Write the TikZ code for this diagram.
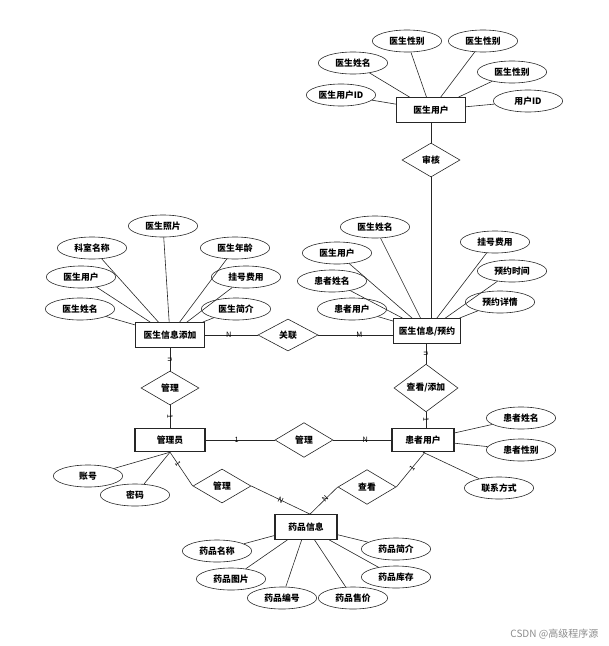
\documentclass[tikz,border=0pt]{standalone}
\usepackage{fontspec}
\setmainfont{Noto Sans CJK SC}
\usetikzlibrary{shapes.geometric}

\tikzset{
  entity/.style={draw=black!85, line width=0.8pt, rectangle, minimum width=52pt,
    minimum height=18.5pt, inner sep=1pt, font=\fontsize{6.6}{8}\selectfont\bfseries},
  attr/.style={draw=black!85, line width=0.45pt, ellipse, minimum width=52pt,
    minimum height=16.5pt, inner sep=0pt, font=\fontsize{6.6}{8}\selectfont\bfseries},
  rel/.style={draw=black!85, line width=0.45pt, diamond, minimum width=43.5pt,
    minimum height=25.5pt, inner sep=0pt, font=\fontsize{6.6}{8}\selectfont\bfseries},
  card/.style={font=\fontsize{5.5}{6}\selectfont, inner sep=0.5pt},
  link/.style={draw=black!85, line width=0.45pt}
}

\begin{document}
\begin{tikzpicture}[x=0.75pt,y=-0.75pt]
  \useasboundingbox (0,0) rectangle (608,646);

  % entities
  \node[entity] (docuser) at (431,110) {医生用户};
  \node[entity, minimum width=50pt] (docinfo) at (427,331) {医生信息/预约};
  \node[entity] (docadd) at (170,335) {医生信息添加};
  \node[entity, minimum width=52.5pt, minimum height=17.5pt] (admin) at (170,440) {管理员};
  \node[entity, minimum width=46.5pt, minimum height=17.5pt] (patient) at (423,440) {患者用户};
  \node[entity, minimum width=46.5pt] (drug) at (306,527) {药品信息};

  % relationships
  \node[rel] (audit) at (431,160) {审核};
  \node[rel, minimum width=45pt, minimum height=24pt] (assoc) at (288,335) {关联};
  \node[rel] (mgrA) at (170,388) {管理};
  \node[rel, minimum width=48pt] (viewA) at (426,388) {查看/添加};
  \node[rel, minimum height=26pt] (mgrB) at (304,440) {管理};
  \node[rel] (mgrC) at (222,486) {管理};
  \node[rel, minimum height=26pt] (viewB) at (367,487) {查看};

  % attributes of 医生用户
  \node[attr] (dsexA) at (407,41) {医生性别};
  \node[attr] (dsexB) at (483,41) {医生性别};
  \node[attr] (dname) at (353,63) {医生姓名};
  \node[attr] (dsexC) at (512,72) {医生性别};
  \node[attr] (duid) at (341,95) {医生用户ID};
  \node[attr] (uid) at (528,101) {用户ID};
  \foreach \a in {dsexA,dsexB,dname,dsexC,duid,uid}
    \draw[link] (\a) -- (docuser);

  % attributes of 医生信息添加
  \node[attr] (aphoto) at (163,226) {医生照片};
  \node[attr] (adept) at (92,248) {科室名称};
  \node[attr] (aage) at (235,248) {医生年龄};
  \node[attr] (auser) at (81,277) {医生用户};
  \node[attr] (afee) at (246,277) {挂号费用};
  \node[attr] (aname) at (80,309) {医生姓名};
  \node[attr] (aintro) at (236,309) {医生简介};
  \foreach \a in {aphoto,adept,aage,auser,afee,aname,aintro}
    \draw[link] (\a) -- (docadd);

  % attributes of 医生信息/预约
  \node[attr] (bname) at (375,227) {医生姓名};
  \node[attr] (buser) at (337,253) {医生用户};
  \node[attr] (bpname) at (332,281) {患者姓名};
  \node[attr] (bpuser) at (352,309) {患者用户};
  \node[attr] (bfee) at (495,242) {挂号费用};
  \node[attr] (btime) at (512,271) {预约时间};
  \node[attr] (bdetail) at (500,302) {预约详情};
  \foreach \a in {bname,buser,bpname,bpuser,bfee,btime,bdetail}
    \draw[link] (\a) -- (docinfo);

  % attributes of 管理员
  \node[attr] (acct) at (88,476) {账号};
  \node[attr] (pwd) at (135,495) {密码};
  \draw[link] (admin.south) -- (acct);
  \draw[link] (admin.south) -- (pwd);

  % attributes of 患者用户
  \node[attr] (pname) at (521,418) {患者姓名};
  \node[attr] (psex) at (521,450) {患者性别};
  \node[attr] (pcontact) at (499,488) {联系方式};
  \draw[link] (patient) -- (pname);
  \draw[link] (patient) -- (psex);
  \draw[link] (patient.south) -- (pcontact);

  % attributes of 药品信息
  \node[attr] (gname) at (217,551) {药品名称};
  \node[attr] (gphoto) at (231,579) {药品图片};
  \node[attr] (gno) at (282,598) {药品编号};
  \node[attr] (gprice) at (353,598) {药品售价};
  \node[attr] (gstock) at (396,577) {药品库存};
  \node[attr] (gintro) at (396,549) {药品简介};
  \foreach \a in {gname,gphoto,gno,gprice,gstock,gintro}
    \draw[link] (\a) -- (drug);

  % relationship lines
  \draw[link] (audit.north) -- (audit.north |- docuser.south);
  \draw[link] (audit.south) -- (audit.south |- docinfo.north);
  \draw[link] (docadd.east |- assoc.west) -- node[card, pos=0.45]{N} (assoc.west);
  \draw[link] (assoc.east) -- node[card, pos=0.55]{M} (assoc.east -| docinfo.west);
  \draw[link] (docadd.south) -- node[card, sloped]{n} (mgrA.north);
  \draw[link] (mgrA.south) -- node[card, sloped]{1} (admin.north);
  \draw[link] (viewA.north |- docinfo.south) -- node[card, sloped]{n} (viewA.north);
  \draw[link] (viewA.south) -- node[card, sloped]{1} (viewA.south |- patient.north);
  \draw[link] (admin.east) -- node[card, pos=0.45]{1} (mgrB.west);
  \draw[link] (mgrB.east) -- node[card, pos=0.55]{N} (patient.west);
  \draw[link] (admin.south) -- node[card, sloped, pos=0.35]{1} (mgrC.west);
  \draw[link] (mgrC.east) -- node[card, sloped, pos=0.5]{N} ([xshift=3pt]drug.north);
  \draw[link] ([xshift=3pt]drug.north) -- node[card, sloped, pos=0.55]{N} (viewB.west);
  \draw[link] (viewB.east) -- node[card, sloped, pos=0.55]{1} ([xshift=1.5pt]patient.south);

  % watermark
  \node[text=black!45, font=\fontsize{7.5}{8}\selectfont, anchor=east] (mark) at (603,634) {CSDN @高级程序源};
\end{tikzpicture}
\end{document}
